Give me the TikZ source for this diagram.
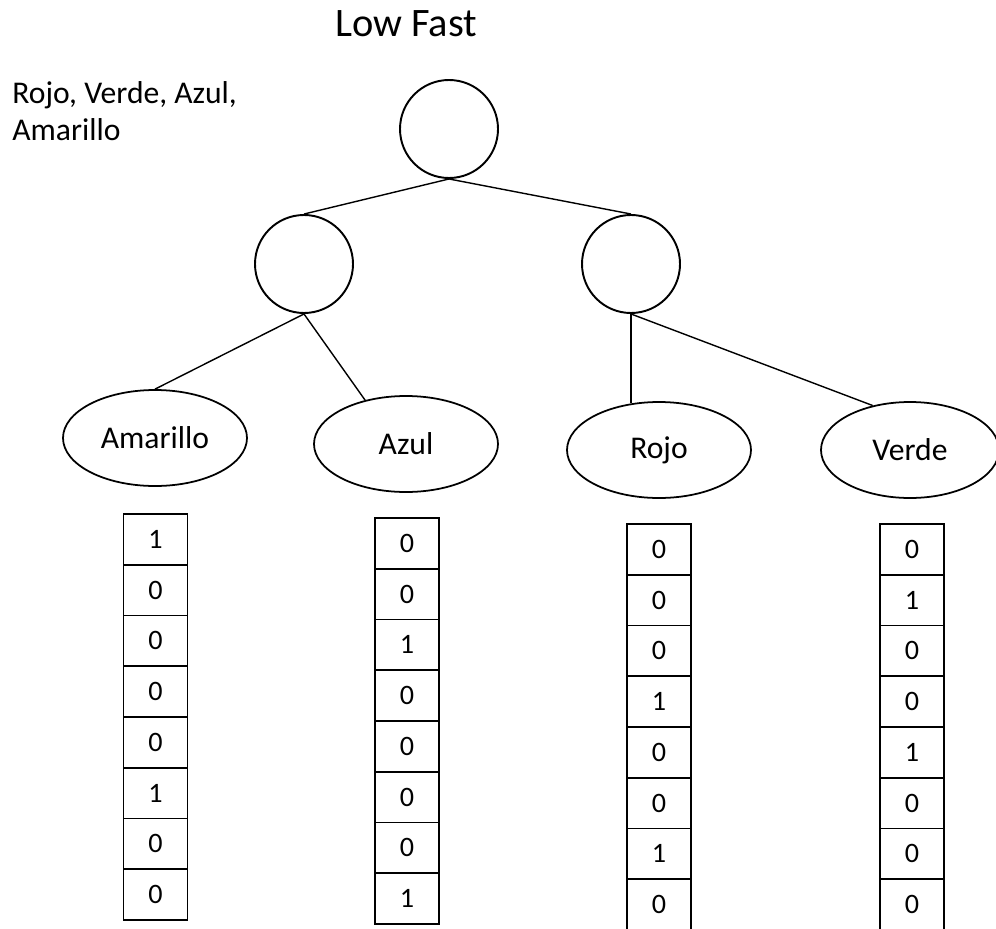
\documentclass[tikz,border=0pt]{standalone}
\usepackage{fontspec}
\setmainfont{Carlito}
\usetikzlibrary{shapes.geometric}

\begin{document}
\begin{tikzpicture}[
  knot/.style={draw, circle, line width=1.1pt, minimum size=1.96cm, inner sep=0pt},
  leaf/.style={draw, ellipse, line width=1pt, minimum width=3.68cm, minimum height=1.92cm,
    inner sep=0pt, font=\fontsize{18}{21}\selectfont},
  bit/.style={draw, line width=1.1pt, minimum width=1.28cm, minimum height=1.015cm,
    inner sep=0pt, font=\fontsize{16}{19}\selectfont},
  link/.style={line width=0.8pt}
]
\useasboundingbox (0,0) rectangle (19.92,-18.56);
\clip (0,0) rectangle (19.92,-18.56);

\node[anchor=base, font=\fontsize{23}{27}\selectfont] (title) at (8.12,-0.72) {Low Fast};
\node[anchor=north west, align=left, inner sep=0pt, font=\fontsize{18}{21}\selectfont]
  (colores) at (0.24,-1.62) {Rojo, Verde, Azul,\\Amarillo};

% arbol
\node[knot] (root) at (8.98,-2.58) {};
\node[knot] (izq) at (6.08,-5.28) {};
\node[knot] (der) at (12.62,-5.28) {};

\node[leaf] (amarillo) at (3.10,-8.76) {Amarillo};
\node[leaf] (azul) at (8.12,-8.88) {Azul};
\node[leaf] (rojo) at (13.18,-9.0) {Rojo};
\node[leaf, minimum width=3.56cm] (verde) at (18.2,-9.0) {Verde};

\draw[link] (root.south) -- (izq.north);
\draw[link] (root.south) -- (der.north);
\draw[link] (izq.south) -- (amarillo.north);
\draw[link] (izq.south) -- (azul.133);
\draw[link] (der.south) -- (rojo.121);
\draw[link] (der.south) -- (verde.130);

% vectores
\foreach \v [count=\i] in {1,0,0,0,0,1,0,0}
  \node[bit] (am\i) at (3.11,{-10.28-(\i-0.5)*1.015}) {\v};
\foreach \v [count=\i] in {0,0,1,0,0,0,0,1}
  \node[bit] (az\i) at (8.14,{-10.36-(\i-0.5)*1.015}) {\v};
\foreach \v [count=\i] in {0,0,0,1,0,0,1,0}
  \node[bit] (ro\i) at (13.18,{-10.48-(\i-0.5)*1.015}) {\v};
\foreach \v [count=\i] in {0,1,0,0,1,0,0,0}
  \node[bit] (ve\i) at (18.24,{-10.48-(\i-0.5)*1.015}) {\v};
\end{tikzpicture}
\end{document}
